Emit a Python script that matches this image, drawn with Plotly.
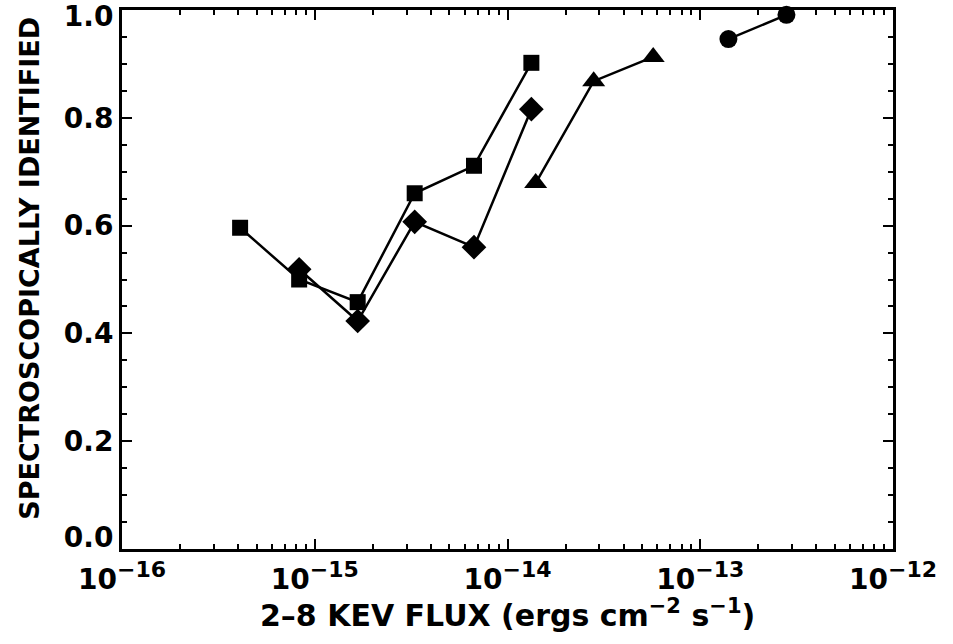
import plotly.graph_objects as go

# Data
sq_x = [4.1e-16, 8.3e-16, 1.67e-15, 3.3e-15, 6.7e-15, 1.33e-14]
sq_y = [0.596, 0.500, 0.458, 0.660, 0.711, 0.902]

dm_x = [8.3e-16, 1.67e-15, 3.3e-15, 6.7e-15, 1.33e-14]
dm_y = [0.519, 0.423, 0.607, 0.560, 0.816]

tr_x = [1.40e-14, 2.8e-14, 5.7e-14]
tr_y = [0.679, 0.868, 0.913]

ci_x = [1.40e-13, 2.8e-13]
ci_y = [0.946, 0.991]

x_tickvals = [1e-16, 1e-15, 1e-14, 1e-13, 1e-12]
x_exponents = ["\u221216", "\u221215", "\u221214", "\u221213", "\u221212"]
x_ticktext = ["10<sup><span style='font-size:22px'>%s</span></sup>" % e for e in x_exponents]
y_tickvals = [0.0, 0.2, 0.4, 0.6, 0.8, 1.0]
y_labels = ["0.0", "0.2", "0.4", "0.6", "0.8", "1.0"]
# end labels sit slightly inside the axis range, as in the reference
y_ticktext = (["<sup><span style='font-size:28px'>%s</span></sup>" % y_labels[0]]
              + y_labels[1:-1]
              + ["<sub><span style='font-size:28px'>%s</span></sub>" % y_labels[-1]])

x_title = "2\u20138 KEV FLUX (ergs cm<sup><span style='font-size:21px'>\u22122</span></sup> s<sup><span style='font-size:21px'>\u22121</span></sup>)"
y_title = "SPECTROSCOPICALLY IDENTIFIED"

FONT = "DejaVu Sans"

fig = go.Figure()

def add(x, y, symbol, size):
    fig.add_trace(go.Scatter(
        x=x, y=y, mode="lines+markers",
        line=dict(color="black", width=2.5),
        marker=dict(symbol=symbol, size=size, color="black", line=dict(width=0)),
        showlegend=False, cliponaxis=False, hoverinfo="skip",
    ))

add(sq_x, sq_y, "square", 16)
add(dm_x, dm_y, "diamond", 19)
add(tr_x, tr_y, "triangle-up", 20)
add(ci_x, ci_y, "circle", 18)

fig.update_layout(
    width=953, height=644,
    margin=dict(l=122, r=60, t=10, b=95),
    paper_bgcolor="white", plot_bgcolor="white",
    font=dict(family=FONT, size=24, color="black", weight="bold"),
)

fig.update_xaxes(
    type="log", range=[-16, -12], automargin=False, ticklabeloverflow="allow",
    tickmode="array", tickvals=x_tickvals, ticktext=x_ticktext,
    ticks="inside", ticklen=10, tickwidth=2, tickcolor="black",
    ticklabelstandoff=3,
    minor=dict(ticks="inside", ticklen=5, tickwidth=2, tickcolor="black", dtick="D1"),
    showline=True, linewidth=3, linecolor="black", mirror="allticks",
    showgrid=False, zeroline=False,
    tickfont=dict(family=FONT, size=28, weight="bold"),
)

fig.update_yaxes(
    range=[0, 1], automargin=False, ticklabeloverflow="allow",
    tickmode="array", tickvals=y_tickvals, ticktext=y_ticktext,
    ticks="inside", ticklen=10, tickwidth=2, tickcolor="black",
    minor=dict(ticks="inside", ticklen=5, tickwidth=2, tickcolor="black", dtick=0.05),
    showline=True, linewidth=3, linecolor="black", mirror="allticks",
    showgrid=False, zeroline=False,
    tickfont=dict(family=FONT, size=28, weight="bold"),
)

fig.add_annotation(
    text=x_title, xref="paper", yref="paper", x=0.5, y=0,
    xanchor="center", yanchor="top", yshift=-44, showarrow=False, borderpad=0,
    font=dict(family=FONT, size=30, weight="bold"),
)
fig.add_annotation(
    text=y_title, xref="paper", yref="paper", x=0, y=0.52,
    xanchor="center", yanchor="middle", xshift=-92, textangle=-90, showarrow=False,
    font=dict(family=FONT, size=27, weight="bold"),
)

fig.write_html("out.html", post_script="document.body.style.margin='0';",
               config={"displayModeBar": False})
